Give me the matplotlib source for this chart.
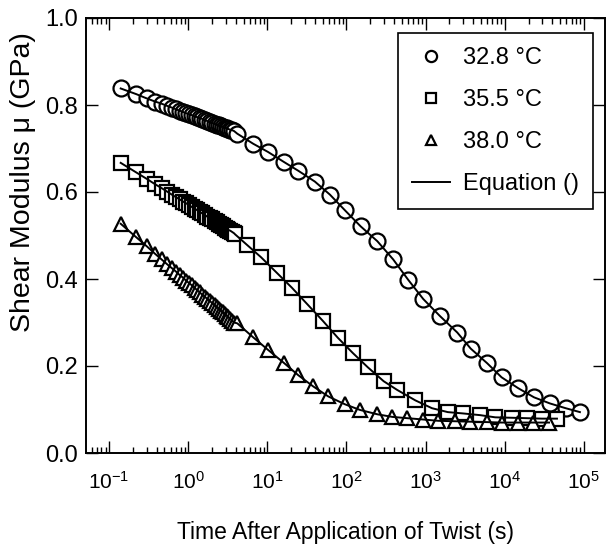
import numpy as np
import matplotlib
matplotlib.use("Agg")
import matplotlib.pyplot as plt
from matplotlib.ticker import LogLocator, NullFormatter, FixedLocator

plt.rcParams["font.family"] = ["Liberation Sans", "DejaVu Sans"]
plt.rcParams["mathtext.fontset"] = "custom"
plt.rcParams["mathtext.rm"] = "Liberation Sans"
plt.rcParams["mathtext.default"] = "regular"

# data: time (s) and shear modulus (GPa)
t_328 = [0.14, 0.22, 0.30, 0.38, 0.46, 0.54, 0.62, 0.70, 0.78, 0.86, 0.94, 1.02, 1.10, 1.20, 1.30, 1.40,
         1.50, 1.62, 1.75, 1.88, 2.00, 2.15, 2.30, 2.45, 2.60, 2.75, 2.90, 3.05, 3.20, 3.40, 3.60, 3.80,
         4.17, 6.61, 10.2, 16.2, 24.5, 39.8, 61.7, 95.5, 151, 245, 389, 603, 933, 1514, 2512, 3715,
         6026, 9120, 14791, 23442, 37154, 58884, 89125]
mu_328 = [0.838, 0.825, 0.815, 0.808, 0.803, 0.798, 0.794, 0.790, 0.787, 0.784, 0.781, 0.779, 0.777, 0.774,
          0.772, 0.770, 0.768, 0.765, 0.763, 0.761, 0.759, 0.757, 0.755, 0.753, 0.751, 0.750, 0.748, 0.747,
          0.745, 0.743, 0.742, 0.740,
          0.734, 0.711, 0.692, 0.669, 0.649, 0.624, 0.594, 0.558, 0.521, 0.487, 0.445, 0.398, 0.354, 0.315,
          0.277, 0.240, 0.206, 0.174, 0.149, 0.128, 0.114, 0.103, 0.094]

t_355 = [0.14, 0.22, 0.30, 0.38, 0.46, 0.54, 0.62, 0.70, 0.78, 0.86, 0.94, 1.02, 1.10, 1.20, 1.30, 1.40,
         1.50, 1.62, 1.75, 1.88, 2.00, 2.15, 2.30, 2.45, 2.60, 2.75, 2.90, 3.05, 3.20, 3.40, 3.60, 3.80,
         3.89, 5.56, 8.32, 13.2, 20.4, 31.6, 50.1, 77.6, 120, 186, 295, 437, 741, 1202, 1905, 2951,
         4898, 7586, 12303, 19055, 29512, 45709]
mu_355 = [0.667, 0.645, 0.630, 0.618, 0.609, 0.601, 0.594, 0.588, 0.583, 0.578, 0.574, 0.570, 0.566, 0.562,
          0.558, 0.554, 0.551, 0.547, 0.543, 0.540, 0.537, 0.533, 0.530, 0.527, 0.524, 0.521, 0.518, 0.516,
          0.513, 0.511, 0.508, 0.505,
          0.503, 0.478, 0.450, 0.414, 0.380, 0.343, 0.304, 0.265, 0.230, 0.197, 0.165, 0.145, 0.121, 0.103,
          0.094, 0.091, 0.087, 0.082, 0.081, 0.080, 0.079, 0.079]

t_380 = [0.14, 0.22, 0.30, 0.38, 0.46, 0.54, 0.62, 0.70, 0.78, 0.86, 0.94, 1.02, 1.10, 1.20, 1.30, 1.40,
         1.50, 1.62, 1.75, 1.88, 2.00, 2.15, 2.30, 2.45, 2.60, 2.75, 2.90, 3.05, 3.20, 3.40, 3.60, 3.80,
         4.17, 6.61, 10.2, 16.2, 24.5, 38.0, 58.9, 95.5, 148, 245, 380, 589, 933, 1445, 2344, 3631,
         6026, 9120, 14791, 22909, 36308]
mu_380 = [0.527, 0.496, 0.475, 0.458, 0.445, 0.434, 0.425, 0.417, 0.409, 0.403, 0.396, 0.391, 0.386, 0.380,
          0.374, 0.369, 0.364, 0.359, 0.354, 0.349, 0.345, 0.340, 0.335, 0.331, 0.327, 0.323, 0.319, 0.316,
          0.312, 0.308, 0.304, 0.300,
          0.298, 0.266, 0.237, 0.207, 0.179, 0.153, 0.130, 0.112, 0.099, 0.089, 0.083, 0.080, 0.077, 0.074,
          0.073, 0.072, 0.071, 0.070, 0.070, 0.070, 0.070]

labels = ["32.8 °C", "35.5 °C", "38.0 °C"]
x_ticks = [1e-1, 1e0, 1e1, 1e2, 1e3, 1e4, 1e5]
y_ticks = [0.0, 0.2, 0.4, 0.6, 0.8, 1.0]
y_ticklabels = ["0.0", "0.2", "0.4", "0.6", "0.8", "1.0"]

fig = plt.figure(figsize=(6.06, 5.58), dpi=100)
ax = fig.add_axes([86 / 606, 105 / 558, 519 / 606, 435 / 558])

series = [(t_328, mu_328, "o"), (t_355, mu_355, "s"), (t_380, mu_380, "^")]
mk_size = {"o": 11.5, "s": 10, "^": 10.5}
marker_handles = []
line_handle = None
for (t, mu, m), lab in zip(series, labels):
    h, = ax.plot(t, mu, linestyle="none", marker=m, markersize=mk_size[m], markerfacecolor="white",
                 markeredgecolor="black", markeredgewidth=1.6, label=lab, zorder=2)
    marker_handles.append(h)
    ln, = ax.plot(t, mu, color="black", linewidth=1.4, label="Equation ()", zorder=3)
    if line_handle is None:
        line_handle = ln

ax.set_xscale("log")
ax.set_xlim(0.051, 1.85e5)
ax.set_ylim(0, 1.0)
ax.xaxis.set_major_locator(FixedLocator(x_ticks))
ax.xaxis.set_minor_locator(LogLocator(base=10, subs=np.arange(2, 10) * 1.0, numticks=20))
ax.xaxis.set_minor_formatter(NullFormatter())
ax.set_yticks(y_ticks)
ax.set_yticklabels(y_ticklabels)

ax.tick_params(which="both", direction="in", top=True, right=True, width=1.0)
ax.tick_params(which="major", length=8.5)
ax.tick_params(which="minor", length=4.5)
ax.tick_params(axis="y", labelsize=17, pad=6)
ax.tick_params(axis="x", labelsize=15, pad=13)
for sp in ax.spines.values():
    sp.set_linewidth(1.4)

ax.set_ylabel("Shear Modulus μ (GPa)", fontsize=20.5)
ax.yaxis.set_label_coords(-0.096, 0.623)
ax.set_xlabel("Time After Application of Twist (s)", fontsize=16.5, labelpad=20)

leg = ax.legend(marker_handles + [line_handle], labels + ["Equation ()"],
                loc="upper right", bbox_to_anchor=(0.977, 0.966), borderaxespad=0,
                fontsize=17, markerscale=0.7, handlelength=1.6,
                handletextpad=0.55, labelspacing=0.85, borderpad=0.6,
                fancybox=False, framealpha=1, edgecolor="black")
leg.get_frame().set_linewidth(1.2)

fig.savefig("out.png", dpi=100)
